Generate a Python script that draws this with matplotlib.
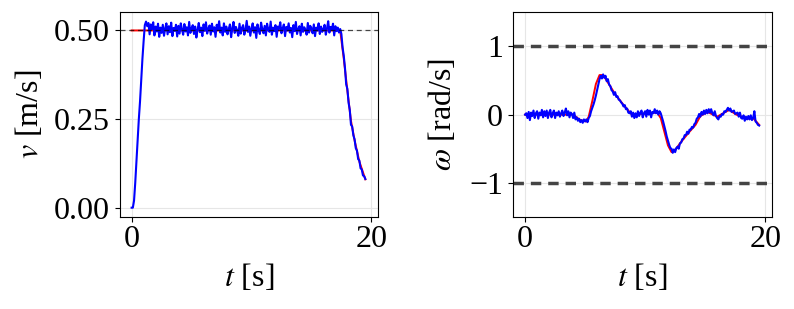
import numpy as np
import matplotlib
matplotlib.use("Agg")
import matplotlib.pyplot as plt

plt.rcParams["font.family"] = ["Liberation Serif", "DejaVu Serif"]
plt.rcParams["mathtext.fontset"] = "stix"

# sample step of the measured signals [s]
dt = 0.1

# measured linear velocity [m/s]
v_meas = [
    0.000, 0.000, 0.020, 0.070, 0.130, 0.190, 0.250, 0.300, 0.360, 0.420, 0.470, 0.515,
    0.525, 0.512, 0.521, 0.489, 0.517, 0.504, 0.523, 0.486, 0.511, 0.497,
    0.519, 0.482, 0.508, 0.493, 0.516, 0.485, 0.506, 0.520, 0.489, 0.512,
    0.495, 0.522, 0.484, 0.507, 0.499, 0.516, 0.483, 0.513, 0.491, 0.520,
    0.503, 0.488, 0.518, 0.497, 0.509, 0.486, 0.524, 0.493, 0.506, 0.515,
    0.490, 0.511, 0.480, 0.502, 0.521, 0.495, 0.508, 0.484, 0.517, 0.499,
    0.523, 0.491, 0.505, 0.514, 0.488, 0.519, 0.497, 0.509, 0.482, 0.516,
    0.502, 0.526, 0.494, 0.508, 0.486, 0.520, 0.496, 0.511, 0.489, 0.504,
    0.517, 0.481, 0.506, 0.524, 0.493, 0.510, 0.500, 0.485, 0.519, 0.491,
    0.507, 0.515, 0.488, 0.502, 0.527, 0.496, 0.511, 0.485, 0.506, 0.520,
    0.494, 0.509, 0.479, 0.517, 0.500, 0.490, 0.522, 0.504, 0.492, 0.513,
    0.486, 0.519, 0.502, 0.496, 0.525, 0.488, 0.508, 0.498, 0.515, 0.482,
    0.511, 0.504, 0.523, 0.492, 0.506, 0.517, 0.484, 0.510, 0.500, 0.520,
    0.494, 0.507, 0.481, 0.515, 0.498, 0.524, 0.490, 0.504, 0.512, 0.486,
    0.519, 0.496, 0.509, 0.502, 0.488, 0.521, 0.494, 0.513, 0.506, 0.492,
    0.517, 0.484, 0.508, 0.500, 0.520, 0.490, 0.511, 0.496, 0.504, 0.516,
    0.488, 0.506, 0.526, 0.494, 0.510, 0.502, 0.519, 0.486, 0.512, 0.498,
    0.508, 0.494, 0.504,
    0.490, 0.452, 0.428, 0.394, 0.348, 0.335, 0.296, 0.276, 0.234, 0.229,
    0.204, 0.193, 0.168, 0.161, 0.137, 0.133, 0.111, 0.108, 0.091, 0.089, 0.081,
]

# reference linear velocity (breakpoints)
t_v_ref = [0.0, 17.4, 17.7, 18.0, 18.3, 18.6, 19.0, 19.5]
v_ref = [0.50, 0.50, 0.42, 0.33, 0.245, 0.19, 0.13, 0.08]

# measured angular velocity [rad/s]
w_meas = [
    0.00, 0.02, -0.05, 0.04, -0.08, 0.03, -0.02, 0.06, -0.05, 0.02,
    0.05, -0.06, 0.03, -0.01, 0.07, -0.04, 0.05, -0.02, 0.06, -0.05,
    0.03, 0.07, -0.04, 0.02, 0.06, -0.05, 0.03, -0.01, 0.05, -0.03,
    0.02, 0.06, -0.02, 0.03, 0.09, -0.01, 0.05, -0.04, 0.03, 0.01,
    -0.05, 0.03, -0.07, -0.04, -0.09, -0.06, -0.11, -0.08, -0.12, -0.07,
    -0.10, -0.07, -0.11, -0.05, -0.02, 0.05, 0.10, 0.15, 0.21, 0.28,
    0.36, 0.44, 0.52, 0.57, 0.53, 0.59, 0.54, 0.57, 0.49, 0.52,
    0.44, 0.42, 0.36, 0.34, 0.29, 0.33, 0.26, 0.27, 0.22, 0.21,
    0.18, 0.16, 0.12, 0.14, 0.08, 0.09, 0.03, 0.02, 0.05, -0.03,
    0.03, -0.05, 0.02, -0.04, 0.05, -0.02, 0.03, 0.06, -0.04, 0.02,
    0.05, -0.03, 0.07, 0.00, 0.06, -0.04, 0.04, 0.02, 0.08, 0.02,
    0.06, 0.00, 0.05, 0.02, -0.04, -0.10, -0.17, -0.24, -0.32, -0.38,
    -0.44, -0.49, -0.50, -0.56, -0.51, -0.55, -0.49, -0.47, -0.50, -0.42,
    -0.41, -0.36, -0.35, -0.30, -0.30, -0.25, -0.28, -0.22, -0.22, -0.18,
    -0.19, -0.14, -0.12, -0.06, -0.04, 0.01, -0.03, 0.04, 0.00, 0.06,
    0.01, 0.07, 0.02, 0.08, 0.03, 0.08, 0.02, -0.01, 0.05, -0.02,
    -0.05, -0.07, -0.02, -0.03, 0.01, 0.00, 0.05, 0.04, 0.07, 0.10,
    0.06, 0.09, 0.04, 0.05, 0.06, 0.01, 0.02, 0.03, -0.03, 0.03,
    -0.05, -0.06, -0.01, -0.09, -0.03, -0.07, -0.02, -0.07, -0.01, -0.08,
    -0.05, 0.05, -0.10, -0.12, -0.15, -0.16,
]

# reference angular velocity (breakpoints)
t_w_ref = [0.0, 4.0, 4.6, 5.1, 5.3, 5.6, 5.9, 6.2, 6.5, 6.8, 7.5, 8.3, 8.9,
           11.0, 11.3, 11.6, 11.9, 12.2, 12.5, 13.0, 13.6, 14.2, 14.6, 15.2,
           16.0, 16.5, 17.0, 17.6, 18.5, 19.0, 19.5]
w_ref = [0.0, 0.0, -0.08, -0.10, -0.03, 0.20, 0.45, 0.58, 0.58, 0.50, 0.30, 0.12, 0.0,
         0.03, -0.05, -0.25, -0.45, -0.55, -0.52, -0.40, -0.27, -0.15, -0.02, 0.04,
         -0.03, 0.02, 0.07, 0.0, -0.06, -0.05, -0.15]

v_max = 0.5
w_max = 1.0

t_v = np.arange(len(v_meas)) * dt
t_w = np.arange(len(w_meas)) * dt

fs = 23
fig = plt.figure(figsize=(7.94, 3.09), dpi=100)
ax1 = fig.add_axes([0.151, 0.298, 0.325, 0.662])
ax2 = fig.add_axes([0.6465, 0.298, 0.3255, 0.662])

ax1.plot(t_v_ref, v_ref, color="red", lw=1.4)
ax1.plot(t_v, v_meas, color="blue", lw=1.5)
ax1.axhline(v_max, color="black", ls="--", lw=0.9, alpha=0.7, dashes=(4, 3))
ax1.set_xlim(-0.98, 20.55)
ax1.set_ylim(-0.026, 0.551)
ax1.set_yticks([0.0, 0.25, 0.5])
ax1.set_yticklabels(["0.00", "0.25", "0.50"])
ax1.set_ylabel(r"$v$ [m/s]", fontsize=fs, labelpad=6)

ax2.plot(t_w_ref, w_ref, color="red", lw=1.4)
ax2.plot(t_w, w_meas, color="blue", lw=1.5)
for lim in (w_max, -w_max):
    ax2.axhline(lim, color="#444444", ls="--", lw=2.5, dashes=(3, 2))
ax2.set_xlim(-0.98, 20.55)
ax2.set_ylim(-1.5, 1.5)
ax2.set_yticks([-1, 0, 1])
ax2.set_yticklabels(["\u22121", "0", "1"])
ax2.set_ylabel(r"$\omega$ [rad/s]", fontsize=fs, labelpad=8)

for ax in (ax1, ax2):
    ax.set_xticks([0, 20])
    ax.set_xlabel(r"$t$ [s]", fontsize=fs, labelpad=6)
    ax.tick_params(axis="x", labelsize=fs, pad=2)
    ax.tick_params(axis="y", labelsize=fs, pad=4)
    ax.grid(True, color="#e6e6e6", lw=0.8)
    ax.set_axisbelow(True)

fig.savefig("out.png", dpi=100)
